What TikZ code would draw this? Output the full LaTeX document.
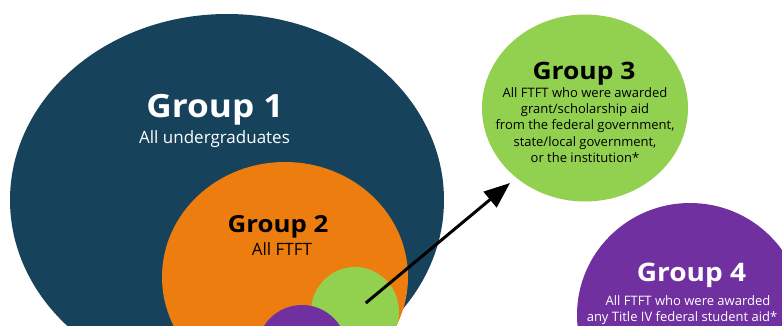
\documentclass[tikz,border=0pt]{standalone}
\usepackage{fontspec}
\setmainfont{Open Sans}
\IfFontExistsTF{Open Sans ExtraBold}
  {\newfontfamily\heavy{Open Sans ExtraBold}\def\tscale{1.04}}
  {\def\heavy{\bfseries}\def\tscale{1.1}}
\usetikzlibrary{shapes.geometric,arrows.meta}
\definecolor{gteal}{RGB}{22,67,91}
\definecolor{gorange}{RGB}{238,125,16}
\definecolor{ggreen}{RGB}{146,208,80}
\definecolor{gpurple}{RGB}{112,48,160}
\newcommand{\wide}[1]{\scalebox{\tscale}[1]{#1}}
\tikzset{
  blob/.style={ellipse,inner sep=0pt,draw=none},
  ttl/.style={anchor=base,font=\heavy\fontsize{#1}{#1}\selectfont,inner sep=0pt},
  sub/.style={anchor=base,font=\fontsize{#1}{#1}\selectfont,inner sep=0pt},
  body/.style={anchor=base,inner sep=0pt,font=\fontsize{13}{15}\selectfont},
  pointer/.style={line width=3pt,-{Triangle[length=26pt,width=20pt]}}
}
\begin{document}
\begin{tikzpicture}[x=1pt,y=-1pt]
\useasboundingbox (0,0) rectangle (782,325);
\clip (0,0) rectangle (782,325);
\node[blob,fill=gteal,minimum width=434pt,minimum height=372pt] (g1) at (227,200) {};
\node[blob,fill=gorange,minimum width=246pt,minimum height=230pt] (g2) at (285,277) {};
\node[blob,fill=ggreen,minimum width=88pt,minimum height=90pt] (s3) at (355,312) {};
\node[blob,fill=gpurple,minimum width=90pt,minimum height=90pt] (s4) at (302,350) {};
\node[blob,fill=ggreen,minimum width=206pt,minimum height=187pt] (g3) at (585,108) {};
\node[blob,fill=gpurple,minimum width=226pt,minimum height=224pt] (g4) at (690,315) {};
\coordinate (tip) at (510,183);
\draw[pointer,shorten <=14pt] (s3.center) -- (tip);
\node[ttl=32,text=white] (t1) at (215,117) {\wide{Group 1}};
\node[sub=17,text=white] (u1) at (214.5,143) {All undergraduates};
\node[ttl=23.5,text=black] (t2) at (278,232) {\wide{Group 2}};
\node[sub=17,text=black] (u2) at (282,255) {All FTFT};
\node[ttl=24,text=black] (t3) at (584,79) {\wide{Group 3}};
\node[body,text=black] (u3a) at (585,97) {All FTFT who were awarded};
\node[body,text=black] (u3b) at (585,113) {grant/scholarship aid};
\node[body,text=black] (u3c) at (585,129.5) {from the federal government,};
\node[body,text=black] (u3d) at (585,146) {state/local government,};
\node[body,text=black] (u3e) at (585,162) {or the institution*};
\node[ttl=25.5,text=white] (t4) at (691.5,281) {\wide{Group 4}};
\node[body,text=white] (u4a) at (688,305) {All FTFT who were awarded};
\node[body,text=white] (u4b) at (682,321) {any Title IV federal student aid*};
\end{tikzpicture}
\end{document}
